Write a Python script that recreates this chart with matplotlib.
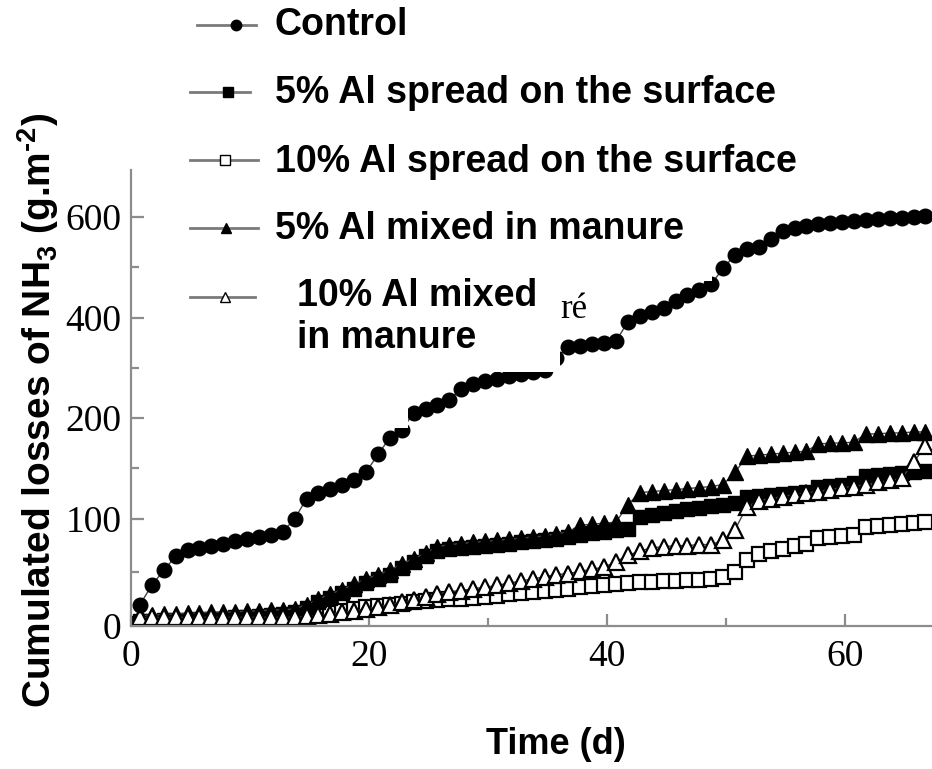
import numpy as np
import matplotlib.pyplot as plt
from matplotlib.lines import Line2D
from matplotlib.patches import Rectangle

plt.rcParams['mathtext.fontset'] = 'custom'
plt.rcParams['mathtext.rm'] = 'Liberation Sans:bold'
plt.rcParams['mathtext.default'] = 'rm'

# sampling days (about one reading per day)
days = np.arange(0.75, 67.0, 1.0)

control = [20, 38, 52, 65, 71, 73, 75, 77, 79, 81, 83, 85, 88, 100, 120, 126, 130,
           134, 138, 146, 164, 180, 188, 210, 218, 226, 236, 258, 268, 274, 278, 283,
           287, 291, 296, 320, 342, 344, 347, 350, 353, 392, 404, 412, 420, 432, 444,
           454, 466, 498, 524, 536, 540, 556, 572, 578, 582, 585, 587, 589, 591, 593,
           595, 597, 598, 600, 602]
spread5 = [5, 5, 6, 6, 6, 7, 7, 7, 8, 8, 9, 10, 11, 13, 17, 22, 26, 31, 35, 40, 44,
           48, 54, 60, 65, 70, 72, 73, 74, 75, 76, 77, 78, 79, 80, 81, 83, 85, 87, 88,
           90, 91, 102, 104, 106, 108, 110, 111, 113, 114, 116, 122, 123, 124, 125,
           126, 127, 132, 133, 134, 135, 142, 143, 144, 145, 146, 147]
spread10 = [2, 2, 2, 2, 2, 3, 3, 3, 3, 3, 4, 4, 4, 5, 7, 10, 12, 14, 16, 18, 19, 20,
            21, 22, 23, 24, 25, 25, 26, 27, 28, 30, 31, 32, 33, 34, 35, 36, 37, 38, 39,
            40, 41, 41, 42, 42, 43, 43, 44, 46, 50, 62, 67, 70, 72, 75, 77, 82, 83, 84,
            85, 92, 93, 94, 95, 96, 97]
mixed5 = [10, 10, 11, 11, 12, 12, 13, 13, 13, 14, 14, 15, 15, 16, 20, 25, 30, 34, 39,
          44, 48, 52, 58, 63, 68, 74, 76, 77, 78, 79, 80, 81, 82, 83, 84, 86, 88, 94,
          95, 96, 97, 114, 126, 127, 128, 129, 130, 131, 132, 134, 146, 162, 163, 164,
          165, 166, 167, 174, 175, 175, 176, 184, 184, 185, 185, 186, 186]
mixed10 = [8, 8, 8, 8, 8, 8, 8, 8, 8, 8, 8, 8, 8, 8, 9, 10, 11, 13, 14, 16, 18, 20, 22,
           24, 27, 30, 32, 33, 35, 36, 38, 40, 42, 44, 46, 48, 49, 51, 53, 55, 60, 66,
           70, 73, 74, 75, 75, 76, 76, 80, 90, 112, 118, 120, 122, 124, 126, 127, 129,
           131, 132, 134, 136, 138, 140, 156, 172]

labels = ['Control', '5% Al spread on the surface', '10% Al spread on the surface',
          '5% Al mixed in manure', '10% Al mixed\nin manure']

# the original axis is not linear: 0-100, 100-200, 200-400, 400-600 get about the same length
yv = [-1000, 0, 100, 200, 400, 600, 2000]
yp = [-1070, 0, 107, 208, 308, 409, 1109]

W, H = 932, 769
fig = plt.figure(figsize=(W / 100, H / 100), dpi=100)
ax = fig.add_axes([131 / W, 143 / H, 801 / W, 456 / H])
ax.set_yscale('function', functions=(lambda v: np.interp(v, yv, yp),
                                     lambda p: np.interp(p, yp, yv)))

lc = '#444444'
ax.plot(days, spread10, '-s', color=lc, lw=1, ms=9.5, mfc='white', mec='black', mew=1.6)
ax.plot(days, spread5, '-s', color=lc, lw=1, ms=9.5, mfc='black', mec='black')
ax.plot(days, mixed5, '-^', color=lc, lw=1, ms=11, mfc='black', mec='black')
ax.plot(days, mixed10, '-^', color=lc, lw=1, ms=11, mfc='white', mec='black', mew=1.6)
ax.plot(days, control, '-o', color=lc, lw=1, ms=10.5, mfc='black', mec='black')

ax.set_xlim(0, 67.3)
ax.set_ylim(0, 693)
ax.set_xticks([0, 20, 40, 60])
ax.set_xticks([10, 30, 50], minor=True)
ax.set_yticks([0, 100, 200, 400, 600])
ax.set_yticks([50, 150, 300, 500], minor=True)
ax.yaxis.set_minor_formatter(plt.NullFormatter())

for s in ['top', 'right']:
    ax.spines[s].set_visible(False)
for s in ['left', 'bottom']:
    ax.spines[s].set_color('#8c8c8c')
    ax.spines[s].set_linewidth(1.6)

ax.tick_params(which='both', direction='in', color='#8c8c8c', width=1.6)
ax.tick_params(which='major', length=9)
ax.tick_params(which='minor', length=6)
ax.tick_params(axis='y', which='major', pad=7)
ax.tick_params(axis='x', which='major', pad=10)
for t in ax.get_xticklabels() + ax.get_yticklabels():
    t.set_fontfamily('Liberation Serif')
    t.set_fontsize(27)

fig.text(38 / W, 1 - 410 / H, r'Cumulated losses of NH$_3$ (g.m$^{\text{-}2}$)', rotation=90,
         ha='center', va='center', fontsize=28, fontweight='bold', family='Liberation Sans')
fig.text(556 / W, 1 - 745 / H, 'Time (d)', ha='center', va='center', fontsize=26,
         fontweight='bold', family='Liberation Sans')

# white patches of the pasted English legend hide part of the curves
for x0, y0, x1, y1 in [(270, 200, 712, 281), (270, 281, 560, 372), (270, 372, 408, 428)]:
    fig.add_artist(Rectangle((x0 / W, 1 - y1 / H), (x1 - x0) / W, (y1 - y0) / H,
                             transform=fig.transFigure, facecolor='white',
                             edgecolor='none', zorder=5))

fig.text(560 / W, 1 - 310 / H, 'ré', ha='left', va='center', fontsize=25,
         family='Liberation Serif', zorder=6)

# legend samples
leg = [(197, 256, 236, 25, 'o', 'black'),
       (190, 250, 228, 92, 's', 'black'),
       (190, 258, 225, 160, 's', 'white'),
       (190, 258, 226, 228, '^', 'black'),
       (190, 255, 225, 297, '^', 'white')]
ty = [25, 93, 162, 229, 317]
tx = [275, 275, 275, 275, 297]
for (x0, x1, xm, y, mk, fc), lab, yy, xx in zip(leg, labels, ty, tx):
    fig.add_artist(Line2D([x0 / W, x1 / W], [1 - y / H, 1 - y / H], transform=fig.transFigure,
                          color='#7a7a7a', lw=2, zorder=6))
    fig.add_artist(Line2D([xm / W], [1 - y / H], transform=fig.transFigure, marker=mk,
                          ms=7.5, mfc=fc, mec='black', mew=1, zorder=7))
    fig.text(xx / W, 1 - yy / H, lab, ha='left', va='center', fontsize=27,
             fontweight='bold', family='Liberation Sans', linespacing=1.25, zorder=7)

fig.savefig('out.png', dpi=100)
